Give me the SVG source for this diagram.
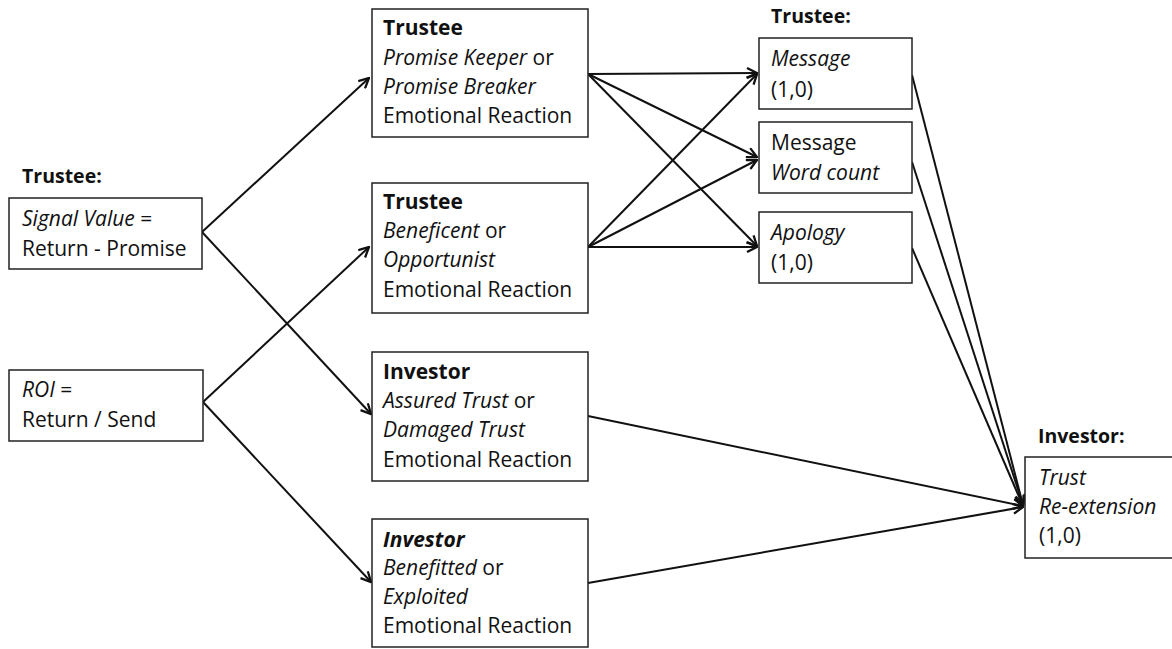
<svg xmlns="http://www.w3.org/2000/svg" width="1172" height="649" viewBox="0 0 1172 649">
<style>
text{font-family:"Open Sans",Lato,"Liberation Sans",sans-serif;font-size:21px;fill:#111}
.b{font-weight:bold}
.i{font-style:italic}
.lbl{font-weight:bold;font-size:19.5px}
.box{fill:#fff;stroke:#222;stroke-width:1.5}
.c{stroke:#111;stroke-width:2;fill:none;marker-end:url(#ah)}
</style>
<defs>
<marker id="ah" viewBox="0 0 12 12" refX="11" refY="6" markerWidth="12" markerHeight="12" markerUnits="userSpaceOnUse" orient="auto">
<path d="M1,1 L11,6 L1,11" fill="none" stroke="#111" stroke-width="2.3"/>
</marker>
</defs>
<rect width="1172" height="649" fill="#fff"/>
<g id="connectors">
<line class="c" x1="202" y1="232" x2="369" y2="78"/>
<line class="c" x1="202" y1="232" x2="371" y2="414"/>
<line class="c" x1="203" y1="402" x2="369" y2="247"/>
<line class="c" x1="203" y1="402" x2="371" y2="582"/>
<line class="c" x1="588" y1="74" x2="757" y2="73"/>
<line class="c" x1="588" y1="74" x2="757" y2="157"/>
<line class="c" x1="588" y1="74" x2="757" y2="246"/>
<line class="c" x1="588" y1="247" x2="757" y2="74"/>
<line class="c" x1="588" y1="247" x2="757" y2="160"/>
<line class="c" x1="588" y1="247" x2="757" y2="247"/>
<line class="c" x1="912" y1="75" x2="1023" y2="505"/>
<line class="c" x1="912" y1="162" x2="1023" y2="505"/>
<line class="c" x1="912" y1="248" x2="1023" y2="506"/>
<line class="c" x1="588" y1="416" x2="1023" y2="506"/>
<line class="c" x1="588" y1="583" x2="1023" y2="507"/>
</g>
<g id="signal">
<text class="lbl" x="22" y="183">Trustee:</text>
<rect class="box" x="9" y="198" width="193" height="71"/>
<text x="22" y="226"><tspan class="i">Signal Value</tspan> =</text>
<text x="22" y="256">Return - Promise</text>
</g>
<g id="roi">
<rect class="box" x="9" y="370" width="194" height="71"/>
<text x="22" y="397"><tspan class="i">ROI</tspan> =</text>
<text x="22" y="427">Return / Send</text>
</g>
<g id="trustee1">
<rect class="box" x="372" y="9" width="216" height="128"/>
<text class="b" x="383" y="35">Trustee</text>
<text x="383" y="65"><tspan class="i">Promise Keeper</tspan> or</text>
<text class="i" x="383" y="94">Promise Breaker</text>
<text x="383" y="123">Emotional Reaction</text>
</g>
<g id="trustee2">
<rect class="box" x="372" y="183" width="216" height="130"/>
<text class="b" x="383" y="209">Trustee</text>
<text x="383" y="238"><tspan class="i">Beneficent</tspan> or</text>
<text class="i" x="383" y="267">Opportunist</text>
<text x="383" y="297">Emotional Reaction</text>
</g>
<g id="investor1">
<rect class="box" x="372" y="352" width="216" height="129"/>
<text class="b" x="383" y="379">Investor</text>
<text x="383" y="408"><tspan class="i">Assured Trust</tspan> or</text>
<text class="i" x="383" y="437">Damaged Trust</text>
<text x="383" y="467">Emotional Reaction</text>
</g>
<g id="investor2">
<rect class="box" x="372" y="519" width="216" height="128"/>
<text class="b i" x="383" y="547">Investor</text>
<text x="383" y="575"><tspan class="i">Benefitted</tspan> or</text>
<text class="i" x="383" y="604">Exploited</text>
<text x="383" y="633">Emotional Reaction</text>
</g>
<g id="message">
<text class="lbl" x="771" y="23">Trustee:</text>
<rect class="box" x="759" y="38" width="153" height="71"/>
<text class="i" x="771" y="66">Message</text>
<text x="771" y="97">(1,0)</text>
</g>
<g id="wordcount">
<rect class="box" x="759" y="122" width="153" height="71"/>
<text x="771" y="150">Message</text>
<text class="i" x="771" y="180">Word count</text>
</g>
<g id="apology">
<rect class="box" x="759" y="212" width="153" height="71"/>
<text class="i" x="771" y="240">Apology</text>
<text x="771" y="270">(1,0)</text>
</g>
<g id="trust">
<text class="lbl" x="1038" y="443">Investor:</text>
<rect class="box" x="1025" y="457" width="160" height="101"/>
<text class="i" x="1039" y="485">Trust</text>
<text class="i" x="1039" y="514">Re-extension</text>
<text x="1039" y="543">(1,0)</text>
</g>
</svg>
